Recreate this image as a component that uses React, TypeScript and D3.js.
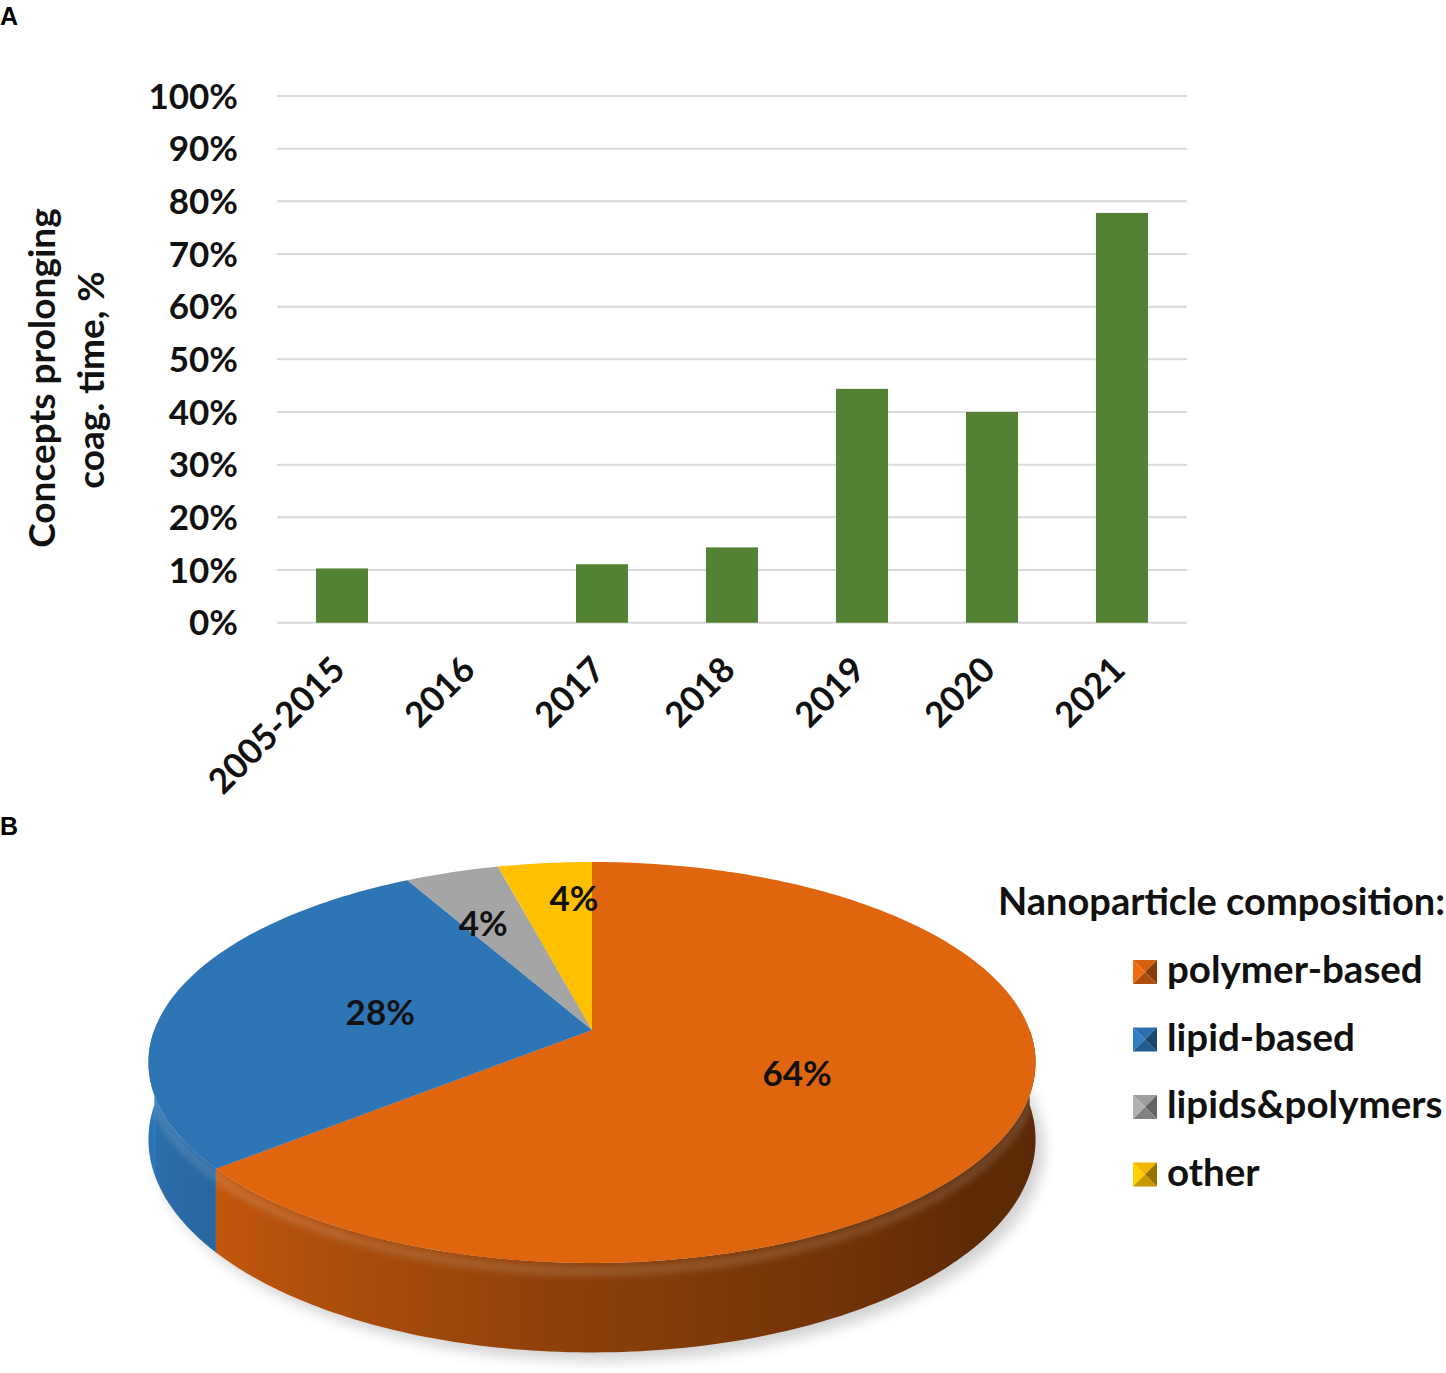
import { useMemo } from 'react'
import * as d3 from 'd3'

// panel A
const years = ['2005-2015', '2016', '2017', '2018', '2019', '2020', '2021']
const coagShare = [10.3, 0, 11.1, 14.3, 44.4, 40.0, 77.8]
const yTicks = [0, 10, 20, 30, 40, 50, 60, 70, 80, 90, 100]

// panel B
const compositions = ['polymer-based', 'lipid-based', 'lipids&polymers', 'other']
const compositionShare = [64, 28, 4, 4]
const compositionColors = ['#E0650F', '#2E75B6', '#A5A5A5', '#FFC000']
// where each data label sits inside its slice (radius fraction, angle nudge in degrees)
const labelRadius = [0.5, 0.5, 0.66, 0.76]
const labelNudge = [0, 0, -2.8, 3.7]

const FONT = 'Lato, "Open Sans", sans-serif'

// perspective of the pie disc
const PIE = { cx: 592, cy: 1030, A: 437.7, B: 195.2, k: 0.162, H: 75 }

function proj(theta: number, r: number, dz = 0): [number, number] {
  const u = r * Math.sin(theta)
  const v = -r * Math.cos(theta)
  const w = 1 - PIE.k * v
  return [PIE.cx + (PIE.A * u) / w, PIE.cy + (PIE.B * v + PIE.H * dz) / w]
}

function arcPoints(a0: number, a1: number, dz = 0) {
  const n = Math.max(2, Math.ceil(((a1 - a0) * 180) / Math.PI))
  return d3.range(n + 1).map(i => proj(a0 + ((a1 - a0) * i) / n, 1, dz))
}

const rad = (deg: number) => (deg * Math.PI) / 180

const shade = d3.scaleLinear<number>()
  .domain([90, 130, 180, 230, 270])
  .range([0.4, 0.42, 0.62, 0.87, 1.03])
  .clamp(true)

function tint(color: string, f: number) {
  const c = d3.rgb(color)
  return d3.rgb(Math.min(255, c.r * f), Math.min(255, c.g * f), Math.min(255, c.b * f)).formatHex()
}

function BarPanel() {
  const x = d3.scaleBand<string>().domain(years).range([277, 1187]).paddingInner(0.6).paddingOuter(0.3)
  const y = d3.scaleLinear().domain([0, 100]).range([622.7, 96])

  return (
    <g>
      <text x={0} y={25} fontFamily='"Liberation Sans", Arial, sans-serif' fontWeight="bold" fontSize={25}>A</text>
      {yTicks.map(t => (
        <g key={t}>
          <line x1={277} x2={1187} y1={y(t)} y2={y(t)} stroke="#D9D9D9" strokeWidth={2} />
          <text x={238} y={y(t)} dy="0.36em" textAnchor="end" fontFamily={FONT} fontWeight="bold" fontSize={35} fill="#111">
            {t}%
          </text>
        </g>
      ))}
      {years.map((yr, i) => (
        <rect key={yr} x={x(yr)} width={x.bandwidth()} y={y(coagShare[i])} height={y(0) - y(coagShare[i])} fill="#548235" />
      ))}
      {years.map(yr => {
        const cx = (x(yr) as number) + x.bandwidth() / 2 + 5
        return (
          <text key={yr} transform={`translate(${cx},672) rotate(-45)`} textAnchor="end" fontFamily={FONT} fontWeight="bold" fontSize={35} fill="#111">
            {yr}
          </text>
        )
      })}
      <text transform="translate(55,378) rotate(-90)" textAnchor="middle" fontFamily={FONT} fontWeight="bold" fontSize={37} fill="#111">
        Concepts  prolonging
      </text>
      <text transform="translate(104,380) rotate(-90)" textAnchor="middle" fontFamily={FONT} fontWeight="bold" fontSize={37} fill="#111">
        coag. time, %
      </text>
    </g>
  )
}

function PiePanel() {
  const arcs = useMemo(() => d3.pie<number>().sort(null).value(d => d)(compositionShare), [])
  const line = d3.line()

  const xMin = PIE.cx - PIE.A * 1.02
  const xMax = PIE.cx + PIE.A * 1.02

  // visible side of each slice, with a horizontal gradient following its facing angle
  const sides: { id: string; d: string; stops: { off: number; col: string }[] }[] = []
  arcs.forEach((a, i) => {
    const s = Math.max(a.startAngle, rad(90))
    const e = Math.min(a.endAngle, rad(270))
    if (e <= s) return
    const top = arcPoints(s, e)
    const bot = arcPoints(s, e, 1).reverse()
    const stops = d3.range(90, 271, 5).map(deg => {
      const [px] = proj(rad(deg), 1)
      return { off: (px - xMin) / (xMax - xMin), col: tint(compositionColors[i], shade(deg)) }
    }).sort((p, q) => p.off - q.off)
    sides.push({ id: `side${i}`, d: line([...top, ...bot]) + 'Z', stops })
  })

  const bottomOutline = line(arcPoints(0, 2 * Math.PI, 1)) + 'Z'
  const rim = line(arcPoints(rad(97), rad(265), 0.09))

  const legendY = [983, 1050.5, 1118, 1185.5]

  return (
    <g>
      <defs>
        <filter id="pieShadow" x="-20%" y="-20%" width="140%" height="140%">
          <feGaussianBlur stdDeviation="7" />
        </filter>
        <filter id="rimBlur" x="-5%" y="-5%" width="110%" height="110%">
          <feGaussianBlur stdDeviation="3" />
        </filter>
        {sides.map(s => (
          <linearGradient key={s.id} id={s.id} gradientUnits="userSpaceOnUse" x1={xMin} x2={xMax} y1={0} y2={0}>
            {s.stops.map((st, j) => (
              <stop key={j} offset={st.off} stopColor={st.col} />
            ))}
          </linearGradient>
        ))}
      </defs>
      <text x={0} y={835} fontFamily='"Liberation Sans", Arial, sans-serif' fontWeight="bold" fontSize={25}>B</text>

      <path d={bottomOutline} transform="translate(8,8)" fill="#9a9a9a" opacity={0.45} filter="url(#pieShadow)" />

      {sides.map(s => (
        <path key={s.id} d={s.d} fill={`url(#${s.id})`} />
      ))}

      <path d={rim ?? ''} fill="none" stroke="#ffffff" strokeOpacity={0.13} strokeWidth={10} filter="url(#rimBlur)" />

      {arcs.map((a, i) => (
        <path
          key={compositions[i]}
          d={line([[PIE.cx, PIE.cy], ...arcPoints(a.startAngle, a.endAngle)]) + 'Z'}
          fill={compositionColors[i]}
        />
      ))}

      {arcs.map((a, i) => {
        const mid = (a.startAngle + a.endAngle) / 2 + rad(labelNudge[i])
        const [lx, ly] = proj(mid, labelRadius[i])
        return (
          <text key={i} x={lx} y={ly} dy="0.36em" textAnchor="middle" fontFamily={FONT} fontWeight="bold" fontSize={35} fill="#111">
            {compositionShare[i]}%
          </text>
        )
      })}

      <text x={998} y={915} fontFamily={FONT} fontWeight="bold" fontSize={38} fill="#111">
        Nanoparticle composition:
      </text>
      {compositions.map((c, i) => {
        const col = compositionColors[i]
        const x0 = 1133
        const y0 = legendY[i] - 23
        const s = 24
        const m: [number, number] = [x0 + s / 2, y0 + s / 2]
        const tl: [number, number] = [x0, y0]
        const tr: [number, number] = [x0 + s, y0]
        const br: [number, number] = [x0 + s, y0 + s]
        const bl: [number, number] = [x0, y0 + s]
        return (
          <g key={c}>
            <path d={line([tl, tr, m]) + 'Z'} fill={tint(col, 0.95)} />
            <path d={line([tl, m, bl]) + 'Z'} fill={tint(col, 1.08)} />
            <path d={line([tr, br, m]) + 'Z'} fill={tint(col, 0.6)} />
            <path d={line([bl, m, br]) + 'Z'} fill={tint(col, 0.78)} />
            <text x={1167} y={legendY[i]} fontFamily={FONT} fontWeight="bold" fontSize={38.5} fill="#111">
              {c}
            </text>
          </g>
        )
      })}
    </g>
  )
}

export default function App() {
  return (
    <div style={{ position: 'absolute', left: 0, top: 0 }}>
      <svg width={1446} height={1373} viewBox="0 0 1446 1373" style={{ display: 'block', background: '#fff' }}>
        <BarPanel />
        <PiePanel />
      </svg>
    </div>
  )
}
